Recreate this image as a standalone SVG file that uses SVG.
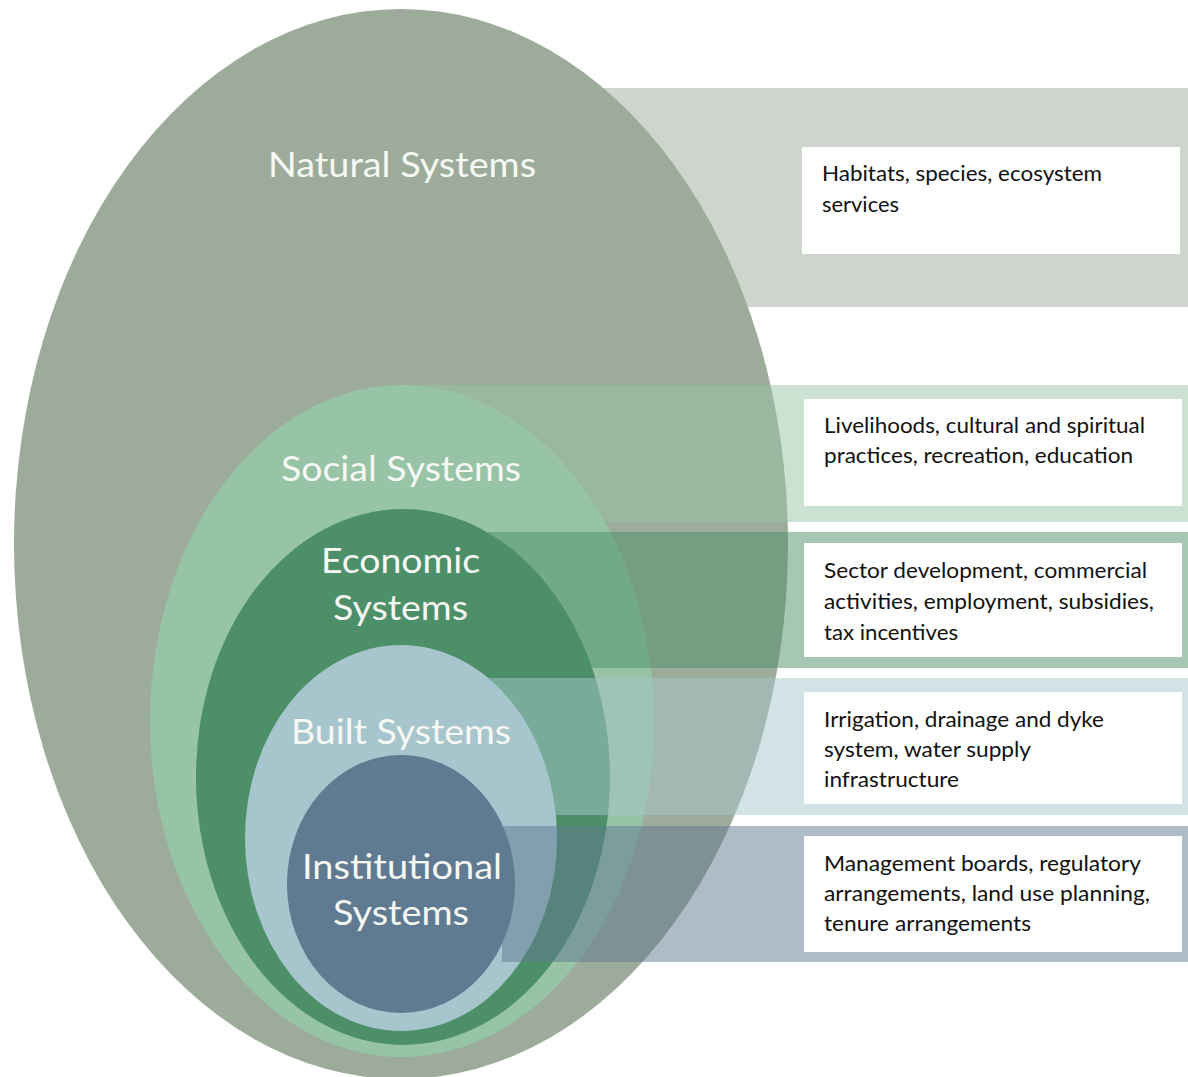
<svg xmlns="http://www.w3.org/2000/svg" width="1188" height="1077" viewBox="0 0 1188 1077">
<style>
  .bg { fill: #ffffff; }
  .band { opacity: 0.5; }
  .nat { fill: #9dab9b; }
  .soc { fill: #97c3a6; }
  .eco { fill: #4d8f69; }
  .blt { fill: #a6c5cc; }
  .ins { fill: #5f7a91; }
  .box { fill: #ffffff; }
  .lbl { font-family: Lato, "Open Sans", "Liberation Sans", sans-serif; font-size: 35px; fill: #f6f8f4; }
  .txt { font-family: Lato, "Open Sans", "Liberation Sans", sans-serif; font-size: 21px; fill: #111111; }
</style>
<rect class="bg" x="0" y="0" width="1188" height="1077"/>

<g id="natural">
  <rect class="band nat" x="400" y="88" width="788" height="219"/>
  <ellipse class="nat" cx="401" cy="544" rx="387" ry="535"/>
  <text class="lbl" x="268" y="177" textLength="268" lengthAdjust="spacingAndGlyphs">Natural Systems</text>
  <rect class="box" x="802" y="147" width="378" height="107"/>
  <text class="txt" x="822" y="181" textLength="280" lengthAdjust="spacingAndGlyphs">Habitats, species, ecosystem</text>
  <text class="txt" x="822" y="212" textLength="77" lengthAdjust="spacingAndGlyphs">services</text>
</g>

<g id="social">
  <rect class="band soc" x="400" y="385" width="788" height="137"/>
  <ellipse class="soc" cx="402" cy="721" rx="252" ry="336"/>
  <text class="lbl" x="281" y="481" textLength="240" lengthAdjust="spacingAndGlyphs">Social Systems</text>
  <rect class="box" x="804" y="399" width="378" height="107"/>
  <text class="txt" x="824" y="433" textLength="321" lengthAdjust="spacingAndGlyphs">Livelihoods, cultural and spiritual</text>
  <text class="txt" x="824" y="463" textLength="309" lengthAdjust="spacingAndGlyphs">practices, recreation, education</text>
</g>

<g id="economic">
  <rect class="band eco" x="488" y="532" width="700" height="136"/>
  <ellipse class="eco" cx="403" cy="777" rx="207" ry="268"/>
  <text class="lbl" x="321" y="573" textLength="159" lengthAdjust="spacingAndGlyphs">Economic</text>
  <text class="lbl" x="333" y="620" textLength="135" lengthAdjust="spacingAndGlyphs">Systems</text>
  <rect class="box" x="804" y="543" width="378" height="114"/>
  <text class="txt" x="824" y="578" textLength="323" lengthAdjust="spacingAndGlyphs">Sector development, commercial</text>
  <text class="txt" x="824" y="609" textLength="330" lengthAdjust="spacingAndGlyphs">activities, employment, subsidies,</text>
  <text class="txt" x="824" y="640" textLength="134" lengthAdjust="spacingAndGlyphs">tax incentives</text>
</g>

<g id="built">
  <rect class="band blt" x="487" y="678" width="701" height="137"/>
  <ellipse class="blt" cx="401" cy="838" rx="156" ry="193"/>
  <text class="lbl" x="291" y="744" textLength="220" lengthAdjust="spacingAndGlyphs">Built Systems</text>
  <rect class="box" x="804" y="692" width="378" height="112"/>
  <text class="txt" x="824" y="727" textLength="280" lengthAdjust="spacingAndGlyphs">Irrigation, drainage and dyke</text>
  <text class="txt" x="824" y="757" textLength="207" lengthAdjust="spacingAndGlyphs">system, water supply</text>
  <text class="txt" x="824" y="787" textLength="135" lengthAdjust="spacingAndGlyphs">infrastructure</text>
</g>

<g id="institutional">
  <rect class="band ins" x="502" y="826" width="686" height="136"/>
  <ellipse class="ins" cx="401" cy="884" rx="114" ry="129"/>
  <text class="lbl" x="302" y="879" textLength="200" lengthAdjust="spacingAndGlyphs">Institutional</text>
  <text class="lbl" x="333" y="925" textLength="136" lengthAdjust="spacingAndGlyphs">Systems</text>
  <rect class="box" x="804" y="836" width="378" height="116"/>
  <text class="txt" x="824" y="871" textLength="317" lengthAdjust="spacingAndGlyphs">Management boards, regulatory</text>
  <text class="txt" x="824" y="901" textLength="326" lengthAdjust="spacingAndGlyphs">arrangements, land use planning,</text>
  <text class="txt" x="824" y="931" textLength="207" lengthAdjust="spacingAndGlyphs">tenure arrangements</text>
</g>
</svg>
